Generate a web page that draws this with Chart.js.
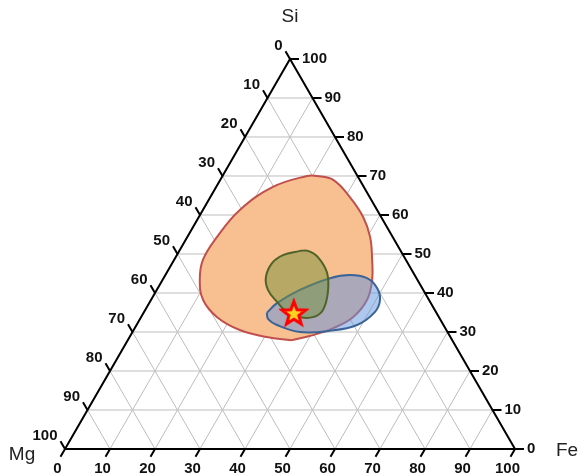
<!DOCTYPE html>
<html>
<head>
<meta charset="utf-8">
<script src="https://cdn.jsdelivr.net/npm/chart.js@4.4.0/dist/chart.umd.min.js"></script>
<style>
  html, body { margin: 0; padding: 0; background: #fff; }
  canvas { display: block; }
</style>
</head>
<body>
<canvas id="ternary" width="579" height="476"></canvas>
<script>
// tick values on all three sides (percent)
const ticks = [0, 10, 20, 30, 40, 50, 60, 70, 80, 90, 100];

// fields as [Si, Fe] in percent (Mg = 100 - Si - Fe)
const orangeField = [
  [27.9, 36.3], [28.7, 30.5], [30.5, 23.6], [33.8, 16.9], [38.2, 11.6], [43.3, 8.3],
  [48.5, 6.4], [54.4, 6.6], [61.3, 8.2], [67.2, 12.6], [70.0, 18.8], [70.0, 21.0],
  [69.0, 25.1], [64.6, 31.0], [59.5, 36.5], [54.4, 40.6], [48.5, 44.0], [43.3, 46.6],
  [38.2, 48.0], [33.8, 47.1], [31.0, 44.1], [29.2, 40.5]
];
const greenField = [
  [50.8, 26.8], [50.8, 28.6], [49.2, 31.6], [45.1, 35.7], [40.0, 38.4], [35.6, 39.5],
  [33.8, 38.2], [33.8, 35.3], [35.1, 31.8], [37.7, 28.3], [40.8, 24.7], [44.1, 22.6],
  [47.7, 22.2], [49.7, 23.6]
];
const blueField = [
  [34.9, 27.4], [37.4, 28.4], [40.8, 31.8], [43.8, 37.0], [44.6, 41.0], [43.8, 45.2],
  [41.3, 48.7], [38.2, 50.9], [35.1, 51.3], [31.8, 49.0], [30.3, 43.7], [30.0, 37.2],
  [31.8, 31.2], [33.3, 28.5]
];
const samplePoint = [[34.9, 33.4]];

const SQ = Math.sqrt(3) / 2;
function toXY(si, fe) {
  return { x: fe + si / 2, y: si * SQ };
}
function closed(pts) {
  const out = pts.map(p => toXY(p[0], p[1]));
  out.push(out[0]);
  return out;
}

// grid lines, separated by gaps
const gridPts = [];
ticks.slice(1, -1).forEach(t => {
  gridPts.push(toXY(t, 0), toXY(t, 100 - t), { x: null, y: null });
  gridPts.push(toXY(0, t), toXY(100 - t, t), { x: null, y: null });
  gridPts.push(toXY(0, 100 - t), toXY(100 - t, 0), { x: null, y: null });
});

const edgePts = [toXY(0, 0), toXY(0, 100), toXY(100, 0), toXY(0, 0)];

// tick marks
const TL = 2;
const tickPos = { bottom: [], left: [], right: [] };
const tickPts = [];
ticks.forEach(t => {
  let a = toXY(0, t);
  let b = { x: a.x - 0.5 * TL, y: a.y - SQ * TL };
  tickPts.push(a, b, { x: null, y: null });
  tickPos.bottom.push([b, t]);

  a = toXY(100 - t, 0);
  b = { x: a.x - 0.5 * TL, y: a.y + SQ * TL };
  tickPts.push(a, b, { x: null, y: null });
  tickPos.left.push([b, t]);

  a = toXY(t, 100 - t);
  b = { x: a.x + TL, y: a.y };
  tickPts.push(a, b, { x: null, y: null });
  tickPos.right.push([b, t]);
});

// red star with yellow inside
function makeStar() {
  const c = document.createElement('canvas');
  c.width = 30; c.height = 30;
  const g = c.getContext('2d');
  g.beginPath();
  for (let i = 0; i < 10; i++) {
    const r = i % 2 === 0 ? 12.5 : 5.2;
    const a = -Math.PI / 2 + i * Math.PI / 5;
    const px = 15 + r * Math.cos(a), py = 16 + r * Math.sin(a);
    if (i === 0) g.moveTo(px, py); else g.lineTo(px, py);
  }
  g.closePath();
  g.fillStyle = '#FFD21F';
  g.strokeStyle = '#FF0000';
  g.lineWidth = 3;
  g.lineJoin = 'miter';
  g.fill();
  g.stroke();
  return c;
}

const labelPlugin = {
  id: 'ternaryLabels',
  afterDraw(chart) {
    const ctx = chart.ctx;
    const xs = chart.scales.x, ys = chart.scales.y;
    const px = p => ({ x: xs.getPixelForValue(p.x), y: ys.getPixelForValue(p.y) });
    ctx.save();
    ctx.fillStyle = '#111';
    ctx.font = 'bold 15px "Liberation Sans", Arial, sans-serif';

    ctx.textAlign = 'center';
    ctx.textBaseline = 'top';
    tickPos.bottom.forEach(([p, t]) => {
      const q = px(p);
      ctx.fillText(t, q.x - 3, q.y + 5);
    });

    ctx.textAlign = 'right';
    ctx.textBaseline = 'middle';
    tickPos.left.forEach(([p, t]) => {
      const q = px(p);
      ctx.fillText(t, q.x - 3, q.y - 5);
    });

    ctx.textAlign = 'left';
    tickPos.right.forEach(([p, t]) => {
      const q = px(p);
      ctx.fillText(t, q.x + 3, q.y);
    });

    ctx.font = '19px "Liberation Sans", Arial, sans-serif';
    ctx.fillStyle = '#222';
    ctx.textAlign = 'center';
    const top = px(toXY(100, 0)), mg = px(toXY(0, 0)), fe = px(toXY(0, 100));
    ctx.fillText('Si', top.x, top.y - 42);
    ctx.fillText('Mg', mg.x - 43, mg.y + 6);
    ctx.fillText('Fe', fe.x + 52, fe.y + 2);
    ctx.restore();
  }
};

const lineDefaults = { showLine: true, pointRadius: 0, spanGaps: false, tension: 0 };

new Chart(document.getElementById('ternary'), {
  type: 'scatter',
  data: {
    datasets: [
      { ...lineDefaults, label: 'sample', data: samplePoint.map(p => toXY(p[0], p[1])),
        showLine: false, pointRadius: 13, pointStyle: makeStar(), order: 0 },
      { ...lineDefaults, label: 'green', data: closed(greenField), tension: 0.4,
        borderColor: '#4F6228', borderWidth: 2, backgroundColor: 'rgba(118,146,60,0.5)', fill: 'shape', order: 1 },
      { ...lineDefaults, label: 'blue', data: closed(blueField), tension: 0.4,
        borderColor: '#3A6398', borderWidth: 2, backgroundColor: 'rgba(100,150,222,0.52)', fill: 'shape', order: 2 },
      { ...lineDefaults, label: 'orange', data: closed(orangeField), tension: 0.4,
        borderColor: '#C0504D', borderWidth: 2, backgroundColor: 'rgb(248,191,144)', fill: 'shape', order: 3 },
      { ...lineDefaults, label: 'edges', data: edgePts, borderColor: '#000', borderWidth: 2, order: 4 },
      { ...lineDefaults, label: 'ticks', data: tickPts, borderColor: '#000', borderWidth: 2, order: 5 },
      { ...lineDefaults, label: 'grid', data: gridPts, borderColor: '#BDBDBD', borderWidth: 1, order: 6 }
    ]
  },
  options: {
    responsive: false,
    animation: false,
    events: [],
    layout: { padding: 0, autoPadding: false },
    plugins: { legend: { display: false }, tooltip: { enabled: false } },
    scales: {
      x: { type: 'linear', display: false, min: -14.444, max: 114.222 },
      y: { type: 'linear', display: false, min: -6.0, max: 99.705 }
    }
  },
  plugins: [labelPlugin]
});
</script>
</body>
</html>
